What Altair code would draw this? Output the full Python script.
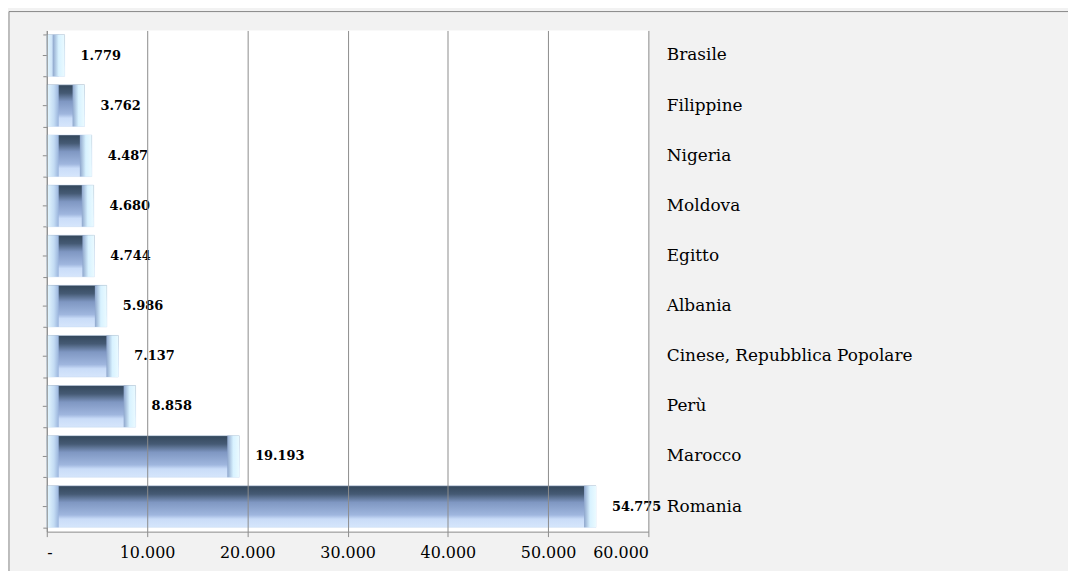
import altair as alt
import pandas as pd

countries = ["Brasile", "Filippine", "Nigeria", "Moldova", "Egitto", "Albania",
             "Cinese, Repubblica Popolare", "Perù", "Marocco", "Romania"]
values = [1779, 3762, 4487, 4680, 4744, 5986, 7137, 8858, 19193, 54775]
x_ticks = [0, 10000, 20000, 30000, 40000, 50000, 60000]

df = pd.DataFrame({"paese": countries, "valore": values})

GRAY = "#8c8c8c"
SERIF = "DejaVu Serif"

yscale = alt.Scale(domain=countries, paddingInner=0.17, paddingOuter=0.085)
xscale = alt.Scale(domain=[0, 60000], nice=False)

x_enc = alt.X(
    "valore:Q", scale=xscale,
    axis=alt.Axis(values=x_ticks, grid=True, gridColor=GRAY, domainColor=GRAY,
                  tickColor=GRAY, tickSize=5, labelFont=SERIF, labelFontSize=16,
                  labelColor="black", labelPadding=8, title=None, zindex=1,
                  labelExpr="datum.value == 0 ? '-' : replace(format(datum.value, ','), ',', '.')"),
)

body_grad = alt.Gradient(
    gradient="linear", x1=0, x2=0, y1=0, y2=1,
    stops=[alt.GradientStop(offset=0, color="#33475b"),
           alt.GradientStop(offset=0.2, color="#455a74"),
           alt.GradientStop(offset=0.4, color="#7f97c2"),
           alt.GradientStop(offset=0.7, color="#9fb6de"),
           alt.GradientStop(offset=0.8, color="#c9dcf8"),
           alt.GradientStop(offset=1, color="#d6e6fc")],
)
left_grad = alt.Gradient(
    gradient="linear", x1=0, x2=1, y1=0, y2=0,
    stops=[alt.GradientStop(offset=0, color="#e6f8ff"),
           alt.GradientStop(offset=0.6, color="#c4dcf4"),
           alt.GradientStop(offset=1, color="#9ab4dc")],
)
right_grad = alt.Gradient(
    gradient="linear", x1=0, x2=1, y1=0, y2=0,
    stops=[alt.GradientStop(offset=0, color="#8ea6cc"),
           alt.GradientStop(offset=0.5, color="#d8f2ff"),
           alt.GradientStop(offset=1, color="#eafaff")],
)

base = alt.Chart(df)

bars = base.mark_bar(fill=body_grad, stroke="#c7d9f0", strokeWidth=0.5).encode(
    x=x_enc,
    y=alt.Y("paese:N", scale=yscale,
            axis=alt.Axis(orient="left", labels=False, tickBand="extent",
                          tickColor=GRAY, tickSize=4, domainColor=GRAY, title=None)),
)

left_cap = base.transform_calculate(zero="0").mark_bar(fill=left_grad, x2Offset=12).encode(
    x=alt.X("zero:Q", scale=xscale),
    x2="zero:Q",
    y=alt.Y("paese:N", scale=yscale, axis=None),
)

right_cap = base.mark_bar(fill=right_grad, xOffset=-12).encode(
    x=alt.X("valore:Q", scale=xscale),
    x2="valore:Q",
    y=alt.Y("paese:N", scale=yscale, axis=None),
)

center_ticks = base.mark_rule(color=GRAY).encode(
    y=alt.Y("paese:N", scale=yscale, axis=None),
    x=alt.value(-4), x2=alt.value(0),
)

labels = base.transform_calculate(
    lab="replace(format(datum.valore, ','), ',', '.')"
).mark_text(align="left", baseline="middle", dx=16, font=SERIF,
            fontWeight="bold", fontSize=13, color="black").encode(
    x=alt.X("valore:Q", scale=xscale),
    y=alt.Y("paese:N", scale=yscale,
            axis=alt.Axis(orient="right", labels=True, ticks=False, domain=False,
                          labelPadding=18, labelAlign="left", labelFont=SERIF,
                          labelFontSize=17, labelColor="black", title=None,
                          labelLimit=400)),
    text="lab:N",
)

frame_df = pd.DataFrame({"a": [0]})
frame_top = alt.Chart(frame_df).mark_rule(color="#888888").encode(
    x=alt.value(-38), x2=alt.value(1100), y=alt.value(-19))
frame_left = alt.Chart(frame_df).mark_rule(color="#888888").encode(
    x=alt.value(-38), y=alt.value(-19), y2=alt.value(600))

chart = alt.layer(bars, left_cap, right_cap, center_ticks, labels, frame_top, frame_left).resolve_axis(
    y="independent"
).properties(
    width=605, height=504,
    autosize=alt.AutoSizeParams(type="none"),
    padding={"left": 39, "top": 21, "right": 422, "bottom": 38},
    background="#F2F2F2",
).configure_view(fill="white", strokeWidth=0)

chart.save("out.html", embed_options={"renderer": "svg", "actions": False})
